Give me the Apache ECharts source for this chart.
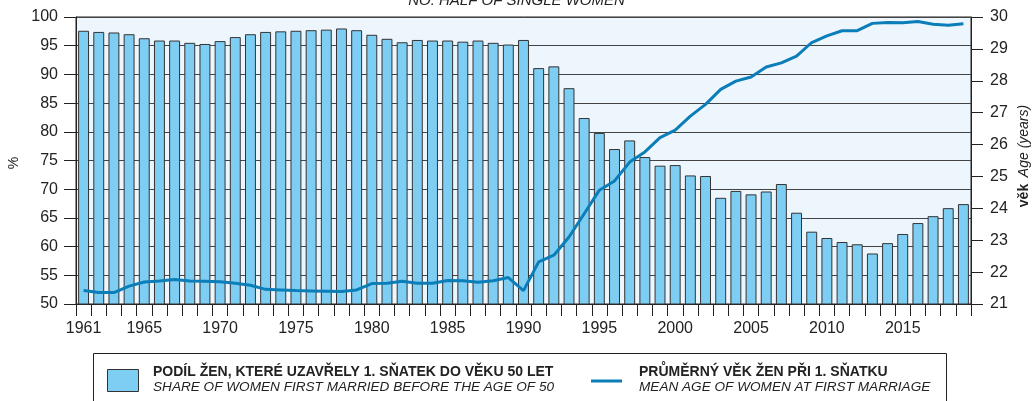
<!DOCTYPE html>
<html>
<head>
<meta charset="utf-8">
<script src="https://cdn.jsdelivr.net/npm/echarts@6/dist/echarts.min.js"></script>
<style>
  html, body { margin: 0; padding: 0; background: #fff; }
  #chart { width: 1033px; height: 401px; }
</style>
</head>
<body>
<div id="chart"></div>
<script>
// years 1961–2019
const years = [];
for (let y = 1961; y <= 2019; y++) years.push(String(y));

// share of women first married before age 50 (%)
const shareMarried = [
  97.6, 97.4, 97.3, 97.0, 96.3, 95.9, 95.9, 95.5, 95.3, 95.8,
  96.5, 97.0, 97.4, 97.5, 97.6, 97.7, 97.8, 98.0, 97.7, 96.9,
  96.2, 95.6, 96.0, 95.9, 95.9, 95.7, 95.9, 95.5, 95.2, 96.0,
  91.1, 91.4, 87.6, 82.4, 79.8, 77.0, 78.5, 75.6, 74.1, 74.2,
  72.4, 72.3, 68.5, 69.7, 69.1, 69.6, 70.9, 65.9, 62.6, 61.5,
  60.8, 60.4, 58.8, 60.6, 62.2, 64.1, 65.3, 66.7, 67.4
];

// mean age of women at first marriage (years)
const meanAge = [
  21.42, 21.36, 21.36, 21.56, 21.69, 21.72, 21.77, 21.72, 21.71, 21.70,
  21.65, 21.59, 21.46, 21.44, 21.42, 21.41, 21.40, 21.39, 21.44, 21.64,
  21.65, 21.71, 21.65, 21.65, 21.74, 21.73, 21.68, 21.73, 21.83, 21.42,
  22.32, 22.53, 23.10, 23.83, 24.57, 24.86, 25.45, 25.77, 26.22, 26.45,
  26.89, 27.26, 27.73, 27.99, 28.12, 28.43, 28.56, 28.77, 29.20, 29.41,
  29.57, 29.57, 29.80, 29.83, 29.82, 29.86, 29.77, 29.74, 29.79
];

const FONT = "'Liberation Sans', Arial, sans-serif";
const BAR_COLOR = '#7ecef4';
const LINE_COLOR = '#0b7db8';

const chart = echarts.init(document.getElementById('chart'));

const option = {
  animation: false,
  textStyle: { fontFamily: FONT },
  grid: {
    left: 76, right: 62, top: 17, bottom: 97,
    show: true,
    backgroundColor: '#eef6fd',
    borderColor: '#222',
    borderWidth: 1
  },
  xAxis: {
    type: 'category',
    data: years,
    boundaryGap: true,
    axisLine: { lineStyle: { color: '#222', width: 1 } },
    axisTick: { show: true, interval: 0, length: 12, lineStyle: { color: '#222' } },
    axisLabel: {
      margin: 17,
      fontSize: 16,
      color: '#222',
      fontFamily: FONT,
      interval: (idx, val) => val === '1961' || Number(val) % 5 === 0
    }
  },
  yAxis: [
    {
      type: 'value',
      min: 50, max: 100, interval: 5,
      position: 'left',
      axisLine: { show: true, lineStyle: { color: '#222' } },
      axisTick: { show: true, length: 12, lineStyle: { color: '#222' } },
      axisLabel: { margin: 18, fontSize: 16, color: '#222', fontFamily: FONT },
      splitLine: { show: true, lineStyle: { color: '#444', width: 1 } }
    },
    {
      type: 'value',
      min: 21, max: 30, interval: 1,
      position: 'right',
      axisLine: { show: true, lineStyle: { color: '#222' } },
      axisTick: { show: true, length: 12, lineStyle: { color: '#222' } },
      axisLabel: { margin: 19, fontSize: 16, color: '#222', fontFamily: FONT },
      splitLine: { show: false }
    }
  ],
  series: [
    {
      name: 'share',
      type: 'bar',
      data: shareMarried,
      yAxisIndex: 0,
      barCategoryGap: '28%',
      itemStyle: { color: BAR_COLOR, borderColor: '#333', borderWidth: 1 }
    },
    {
      name: 'age',
      type: 'line',
      data: meanAge,
      yAxisIndex: 1,
      showSymbol: false,
      symbol: 'none',
      lineStyle: { color: LINE_COLOR, width: 3 },
      z: 5
    }
  ],
  graphic: [
    // title, cut at the top edge
    {
      type: 'text', left: 'center', top: -7,
      style: { text: 'NO. HALF OF SINGLE WOMEN', font: 'italic 15px ' + FONT, fill: '#222' }
    },
    // left axis name
    {
      type: 'text', x: 14, y: 163, rotation: Math.PI / 2,
      style: { text: '%', font: '14px ' + FONT, fill: '#222', align: 'center', verticalAlign: 'middle' }
    },
    // right axis name
    {
      type: 'text', x: 1024, y: 156, rotation: Math.PI / 2,
      style: {
        text: '{b|věk}  {i|Age (years)}',
        align: 'center', verticalAlign: 'middle',
        rich: {
          b: { font: 'bold 14px ' + FONT, fill: '#222' },
          i: { font: 'italic 14px ' + FONT, fill: '#222' }
        }
      }
    },
    // legend box
    {
      type: 'rect', shape: { x: 93.5, y: 353.5, width: 853, height: 60 },
      style: { fill: '#fff', stroke: '#222', lineWidth: 1 }
    },
    {
      type: 'rect', shape: { x: 107.5, y: 369.5, width: 31, height: 22 },
      style: { fill: BAR_COLOR, stroke: '#333', lineWidth: 1 }
    },
    {
      type: 'text', x: 153, y: 365,
      style: { text: 'PODÍL ŽEN, KTERÉ UZAVŘELY 1. SŇATEK DO VĚKU 50 LET', font: 'bold 14px ' + FONT, fill: '#222' }
    },
    {
      type: 'text', x: 153, y: 380,
      style: { text: 'SHARE OF WOMEN FIRST MARRIED BEFORE THE AGE OF 50', font: 'italic 13.6px ' + FONT, fill: '#222' }
    },
    {
      type: 'line', shape: { x1: 591, y1: 381, x2: 622, y2: 381 },
      style: { stroke: LINE_COLOR, lineWidth: 3 }
    },
    {
      type: 'text', x: 639, y: 365,
      style: { text: 'PRŮMĚRNÝ VĚK ŽEN PŘI 1. SŇATKU', font: 'bold 14px ' + FONT, fill: '#222' }
    },
    {
      type: 'text', x: 639, y: 380,
      style: { text: 'MEAN AGE OF WOMEN AT FIRST MARRIAGE', font: 'italic 13.6px ' + FONT, fill: '#222' }
    }
  ]
};

chart.setOption(option);
</script>
</body>
</html>
